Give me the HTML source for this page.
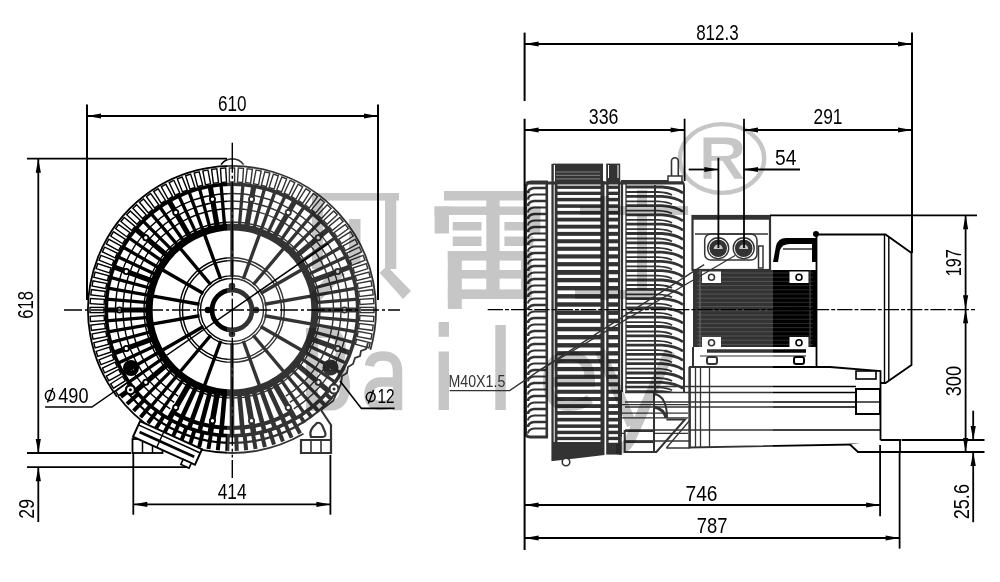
<!DOCTYPE html>
<html><head><meta charset="utf-8"><style>
html,body{margin:0;padding:0;background:#fff;}
svg{display:block;}
text{font-family:"Liberation Sans",sans-serif;}
</style></head><body>
<svg width="1000" height="582" viewBox="0 0 1000 582">
<rect width="1000" height="582" fill="#fff"/>
<g id="leftblower">
<path d="M117,396.66 A144,144 0 1 1 370.42,349.69" fill="none" stroke="#000" stroke-width="1.8"/>
<path d="M303.5,433.84 A143,143 0 0 1 117.8,396.06" fill="none" stroke="#000" stroke-width="1.8"/>
<rect x="-2.6" y="-142" width="5.2" height="14" fill="none" stroke="#000" stroke-width="1.4" transform="translate(232,310) rotate(0)"/>
<rect x="-2.6" y="-142" width="5.2" height="14" fill="none" stroke="#000" stroke-width="1.4" transform="translate(232,310) rotate(3.6)"/>
<rect x="-2.6" y="-142" width="5.2" height="14" fill="none" stroke="#000" stroke-width="1.4" transform="translate(232,310) rotate(7.2)"/>
<rect x="-2.6" y="-142" width="5.2" height="14" fill="none" stroke="#000" stroke-width="1.4" transform="translate(232,310) rotate(10.8)"/>
<rect x="-2.6" y="-142" width="5.2" height="14" fill="none" stroke="#000" stroke-width="1.4" transform="translate(232,310) rotate(14.4)"/>
<rect x="-2.6" y="-142" width="5.2" height="14" fill="none" stroke="#000" stroke-width="1.4" transform="translate(232,310) rotate(18)"/>
<rect x="-2.6" y="-142" width="5.2" height="14" fill="none" stroke="#000" stroke-width="1.4" transform="translate(232,310) rotate(21.6)"/>
<rect x="-2.6" y="-142" width="5.2" height="14" fill="none" stroke="#000" stroke-width="1.4" transform="translate(232,310) rotate(25.2)"/>
<rect x="-2.6" y="-142" width="5.2" height="14" fill="none" stroke="#000" stroke-width="1.4" transform="translate(232,310) rotate(28.8)"/>
<rect x="-2.6" y="-142" width="5.2" height="14" fill="none" stroke="#000" stroke-width="1.4" transform="translate(232,310) rotate(32.4)"/>
<rect x="-2.6" y="-142" width="5.2" height="14" fill="none" stroke="#000" stroke-width="1.4" transform="translate(232,310) rotate(36)"/>
<rect x="-2.6" y="-142" width="5.2" height="14" fill="none" stroke="#000" stroke-width="1.4" transform="translate(232,310) rotate(39.6)"/>
<rect x="-2.6" y="-142" width="5.2" height="14" fill="none" stroke="#000" stroke-width="1.4" transform="translate(232,310) rotate(43.2)"/>
<rect x="-2.6" y="-142" width="5.2" height="14" fill="none" stroke="#000" stroke-width="1.4" transform="translate(232,310) rotate(46.8)"/>
<rect x="-2.6" y="-142" width="5.2" height="14" fill="none" stroke="#000" stroke-width="1.4" transform="translate(232,310) rotate(50.4)"/>
<rect x="-2.6" y="-142" width="5.2" height="14" fill="none" stroke="#000" stroke-width="1.4" transform="translate(232,310) rotate(54)"/>
<rect x="-2.6" y="-142" width="5.2" height="14" fill="none" stroke="#000" stroke-width="1.4" transform="translate(232,310) rotate(57.6)"/>
<rect x="-2.6" y="-142" width="5.2" height="14" fill="none" stroke="#000" stroke-width="1.4" transform="translate(232,310) rotate(61.2)"/>
<rect x="-2.6" y="-142" width="5.2" height="14" fill="none" stroke="#000" stroke-width="1.4" transform="translate(232,310) rotate(64.8)"/>
<rect x="-2.6" y="-142" width="5.2" height="14" fill="none" stroke="#000" stroke-width="1.4" transform="translate(232,310) rotate(68.4)"/>
<rect x="-2.6" y="-142" width="5.2" height="14" fill="none" stroke="#000" stroke-width="1.4" transform="translate(232,310) rotate(72)"/>
<rect x="-2.6" y="-142" width="5.2" height="14" fill="none" stroke="#000" stroke-width="1.4" transform="translate(232,310) rotate(75.6)"/>
<rect x="-2.6" y="-142" width="5.2" height="14" fill="none" stroke="#000" stroke-width="1.4" transform="translate(232,310) rotate(79.2)"/>
<rect x="-2.6" y="-142" width="5.2" height="14" fill="none" stroke="#000" stroke-width="1.4" transform="translate(232,310) rotate(82.8)"/>
<rect x="-2.6" y="-142" width="5.2" height="14" fill="none" stroke="#000" stroke-width="1.4" transform="translate(232,310) rotate(86.4)"/>
<rect x="-2.6" y="-142" width="5.2" height="14" fill="none" stroke="#000" stroke-width="1.4" transform="translate(232,310) rotate(90)"/>
<rect x="-2.6" y="-142" width="5.2" height="14" fill="none" stroke="#000" stroke-width="1.4" transform="translate(232,310) rotate(93.6)"/>
<rect x="-2.6" y="-142" width="5.2" height="14" fill="none" stroke="#000" stroke-width="1.4" transform="translate(232,310) rotate(97.2)"/>
<rect x="-2.6" y="-142" width="5.2" height="14" fill="none" stroke="#000" stroke-width="1.4" transform="translate(232,310) rotate(100.8)"/>
<rect x="-2.6" y="-142" width="5.2" height="14" fill="none" stroke="#000" stroke-width="1.4" transform="translate(232,310) rotate(104.4)"/>
<rect x="-2.6" y="-142" width="5.2" height="14" fill="none" stroke="#000" stroke-width="1.4" transform="translate(232,310) rotate(234)"/>
<rect x="-2.6" y="-142" width="5.2" height="14" fill="none" stroke="#000" stroke-width="1.4" transform="translate(232,310) rotate(237.6)"/>
<rect x="-2.6" y="-142" width="5.2" height="14" fill="none" stroke="#000" stroke-width="1.4" transform="translate(232,310) rotate(241.2)"/>
<rect x="-2.6" y="-142" width="5.2" height="14" fill="none" stroke="#000" stroke-width="1.4" transform="translate(232,310) rotate(244.8)"/>
<rect x="-2.6" y="-142" width="5.2" height="14" fill="none" stroke="#000" stroke-width="1.4" transform="translate(232,310) rotate(248.4)"/>
<rect x="-2.6" y="-142" width="5.2" height="14" fill="none" stroke="#000" stroke-width="1.4" transform="translate(232,310) rotate(252)"/>
<rect x="-2.6" y="-142" width="5.2" height="14" fill="none" stroke="#000" stroke-width="1.4" transform="translate(232,310) rotate(255.6)"/>
<rect x="-2.6" y="-142" width="5.2" height="14" fill="none" stroke="#000" stroke-width="1.4" transform="translate(232,310) rotate(259.2)"/>
<rect x="-2.6" y="-142" width="5.2" height="14" fill="none" stroke="#000" stroke-width="1.4" transform="translate(232,310) rotate(262.8)"/>
<rect x="-2.6" y="-142" width="5.2" height="14" fill="none" stroke="#000" stroke-width="1.4" transform="translate(232,310) rotate(266.4)"/>
<rect x="-2.6" y="-142" width="5.2" height="14" fill="none" stroke="#000" stroke-width="1.4" transform="translate(232,310) rotate(270)"/>
<rect x="-2.6" y="-142" width="5.2" height="14" fill="none" stroke="#000" stroke-width="1.4" transform="translate(232,310) rotate(273.6)"/>
<rect x="-2.6" y="-142" width="5.2" height="14" fill="none" stroke="#000" stroke-width="1.4" transform="translate(232,310) rotate(277.2)"/>
<rect x="-2.6" y="-142" width="5.2" height="14" fill="none" stroke="#000" stroke-width="1.4" transform="translate(232,310) rotate(280.8)"/>
<rect x="-2.6" y="-142" width="5.2" height="14" fill="none" stroke="#000" stroke-width="1.4" transform="translate(232,310) rotate(284.4)"/>
<rect x="-2.6" y="-142" width="5.2" height="14" fill="none" stroke="#000" stroke-width="1.4" transform="translate(232,310) rotate(288)"/>
<rect x="-2.6" y="-142" width="5.2" height="14" fill="none" stroke="#000" stroke-width="1.4" transform="translate(232,310) rotate(291.6)"/>
<rect x="-2.6" y="-142" width="5.2" height="14" fill="none" stroke="#000" stroke-width="1.4" transform="translate(232,310) rotate(295.2)"/>
<rect x="-2.6" y="-142" width="5.2" height="14" fill="none" stroke="#000" stroke-width="1.4" transform="translate(232,310) rotate(298.8)"/>
<rect x="-2.6" y="-142" width="5.2" height="14" fill="none" stroke="#000" stroke-width="1.4" transform="translate(232,310) rotate(302.4)"/>
<rect x="-2.6" y="-142" width="5.2" height="14" fill="none" stroke="#000" stroke-width="1.4" transform="translate(232,310) rotate(306)"/>
<rect x="-2.6" y="-142" width="5.2" height="14" fill="none" stroke="#000" stroke-width="1.4" transform="translate(232,310) rotate(309.6)"/>
<rect x="-2.6" y="-142" width="5.2" height="14" fill="none" stroke="#000" stroke-width="1.4" transform="translate(232,310) rotate(313.2)"/>
<rect x="-2.6" y="-142" width="5.2" height="14" fill="none" stroke="#000" stroke-width="1.4" transform="translate(232,310) rotate(316.8)"/>
<rect x="-2.6" y="-142" width="5.2" height="14" fill="none" stroke="#000" stroke-width="1.4" transform="translate(232,310) rotate(320.4)"/>
<rect x="-2.6" y="-142" width="5.2" height="14" fill="none" stroke="#000" stroke-width="1.4" transform="translate(232,310) rotate(324)"/>
<rect x="-2.6" y="-142" width="5.2" height="14" fill="none" stroke="#000" stroke-width="1.4" transform="translate(232,310) rotate(327.6)"/>
<rect x="-2.6" y="-142" width="5.2" height="14" fill="none" stroke="#000" stroke-width="1.4" transform="translate(232,310) rotate(331.2)"/>
<rect x="-2.6" y="-142" width="5.2" height="14" fill="none" stroke="#000" stroke-width="1.4" transform="translate(232,310) rotate(334.8)"/>
<rect x="-2.6" y="-142" width="5.2" height="14" fill="none" stroke="#000" stroke-width="1.4" transform="translate(232,310) rotate(338.4)"/>
<rect x="-2.6" y="-142" width="5.2" height="14" fill="none" stroke="#000" stroke-width="1.4" transform="translate(232,310) rotate(342)"/>
<rect x="-2.6" y="-142" width="5.2" height="14" fill="none" stroke="#000" stroke-width="1.4" transform="translate(232,310) rotate(345.6)"/>
<rect x="-2.6" y="-142" width="5.2" height="14" fill="none" stroke="#000" stroke-width="1.4" transform="translate(232,310) rotate(349.2)"/>
<rect x="-2.6" y="-142" width="5.2" height="14" fill="none" stroke="#000" stroke-width="1.4" transform="translate(232,310) rotate(352.8)"/>
<rect x="-2.6" y="-142" width="5.2" height="14" fill="none" stroke="#000" stroke-width="1.4" transform="translate(232,310) rotate(356.4)"/>
<circle cx="232" cy="310" r="125.8" stroke="#000" stroke-width="3.6" fill="none"/>
<line x1="331.29" y1="387.57" x2="337.59" y2="392.5" stroke="#000" stroke-width="4"/>
<line x1="325.85" y1="394.07" x2="331.81" y2="399.41" stroke="#000" stroke-width="4"/>
<line x1="319.99" y1="400.18" x2="325.58" y2="405.91" stroke="#000" stroke-width="4"/>
<line x1="313.74" y1="405.89" x2="318.93" y2="411.98" stroke="#000" stroke-width="4"/>
<line x1="307.11" y1="411.16" x2="311.88" y2="417.59" stroke="#000" stroke-width="4"/>
<line x1="300.15" y1="415.98" x2="304.47" y2="422.71" stroke="#000" stroke-width="4"/>
<line x1="292.87" y1="420.32" x2="300.12" y2="433.45" stroke="#000" stroke-width="4"/>
<line x1="285.32" y1="424.16" x2="291.67" y2="437.75" stroke="#000" stroke-width="4"/>
<line x1="277.53" y1="427.48" x2="282.96" y2="441.47" stroke="#000" stroke-width="4"/>
<line x1="269.54" y1="430.28" x2="274.01" y2="444.6" stroke="#000" stroke-width="4"/>
<line x1="261.37" y1="432.53" x2="264.87" y2="447.11" stroke="#000" stroke-width="4"/>
<line x1="253.08" y1="434.22" x2="255.59" y2="449.01" stroke="#000" stroke-width="4"/>
<line x1="244.68" y1="435.36" x2="246.19" y2="450.28" stroke="#000" stroke-width="4"/>
<line x1="236.23" y1="435.93" x2="236.74" y2="450.92" stroke="#000" stroke-width="4"/>
<line x1="227.77" y1="435.93" x2="227.26" y2="450.92" stroke="#000" stroke-width="4"/>
<line x1="219.32" y1="435.36" x2="217.81" y2="450.28" stroke="#000" stroke-width="4"/>
<line x1="210.92" y1="434.22" x2="208.41" y2="449.01" stroke="#000" stroke-width="4"/>
<line x1="202.63" y1="432.53" x2="199.13" y2="447.11" stroke="#000" stroke-width="4"/>
<line x1="194.46" y1="430.28" x2="189.99" y2="444.6" stroke="#000" stroke-width="4"/>
<line x1="186.47" y1="427.48" x2="181.04" y2="441.47" stroke="#000" stroke-width="4"/>
<line x1="178.68" y1="424.16" x2="172.33" y2="437.75" stroke="#000" stroke-width="4"/>
<line x1="171.13" y1="420.32" x2="163.88" y2="433.45" stroke="#000" stroke-width="4"/>
<line x1="163.85" y1="415.98" x2="155.74" y2="428.6" stroke="#000" stroke-width="4"/>
<line x1="156.89" y1="411.16" x2="147.95" y2="423.21" stroke="#000" stroke-width="4"/>
<line x1="150.26" y1="405.89" x2="140.53" y2="417.31" stroke="#000" stroke-width="4"/>
<line x1="144.01" y1="400.18" x2="133.53" y2="410.92" stroke="#000" stroke-width="4"/>
<line x1="138.15" y1="394.07" x2="126.97" y2="404.08" stroke="#000" stroke-width="4"/>
<line x1="132.71" y1="387.57" x2="120.89" y2="396.81" stroke="#000" stroke-width="4"/>
<path d="M336.81,391.88 A133,133 0 0 1 127.19,391.88" fill="none" stroke="#000" stroke-width="2.2"/>
<path d="M368,343 L366,349 L361,351 L360,356 L355,358 L353,364 L348,367 L347,373 L342,376 L341,384 L333,401 L321,410" fill="none" stroke="#000" stroke-width="1.8"/>
<circle cx="330.5" cy="367.5" r="8" fill="#000"/><circle cx="331.5" cy="368.5" r="2" fill="#888"/>
<circle cx="131" cy="368" r="8" fill="#000"/><circle cx="132" cy="369" r="2" fill="#888"/>
<circle cx="130.4" cy="389.8" r="4.5" fill="#fff" stroke="#000" stroke-width="2.2"/><circle cx="130.4" cy="389.8" r="1.5" fill="#000"/>
<circle cx="334" cy="389" r="4.5" fill="#fff" stroke="#000" stroke-width="2.2"/><circle cx="334" cy="389" r="1.5" fill="#000"/>
<line x1="232" y1="226" x2="232" y2="184" stroke="#000" stroke-width="3.3"/>
<line x1="239.32" y1="226.32" x2="242.98" y2="184.48" stroke="#000" stroke-width="3.3"/>
<line x1="246.59" y1="227.28" x2="253.88" y2="185.91" stroke="#000" stroke-width="5.2"/>
<line x1="253.74" y1="228.86" x2="264.61" y2="188.29" stroke="#000" stroke-width="3.3"/>
<line x1="260.73" y1="231.07" x2="275.09" y2="191.6" stroke="#000" stroke-width="3.3"/>
<line x1="267.5" y1="233.87" x2="285.25" y2="195.81" stroke="#000" stroke-width="3.3"/>
<line x1="274" y1="237.25" x2="295" y2="200.88" stroke="#000" stroke-width="5.2"/>
<line x1="280.18" y1="241.19" x2="304.27" y2="206.79" stroke="#000" stroke-width="3.3"/>
<line x1="285.99" y1="245.65" x2="312.99" y2="213.48" stroke="#000" stroke-width="3.3"/>
<line x1="291.4" y1="250.6" x2="321.1" y2="220.9" stroke="#000" stroke-width="3.3"/>
<line x1="296.35" y1="256.01" x2="328.52" y2="229.01" stroke="#000" stroke-width="5.2"/>
<line x1="300.81" y1="261.82" x2="335.21" y2="237.73" stroke="#000" stroke-width="3.3"/>
<line x1="304.75" y1="268" x2="341.12" y2="247" stroke="#000" stroke-width="3.3"/>
<line x1="308.13" y1="274.5" x2="346.19" y2="256.75" stroke="#000" stroke-width="3.3"/>
<line x1="310.93" y1="281.27" x2="350.4" y2="266.91" stroke="#000" stroke-width="5.2"/>
<line x1="313.14" y1="288.26" x2="353.71" y2="277.39" stroke="#000" stroke-width="3.3"/>
<line x1="314.72" y1="295.41" x2="356.09" y2="288.12" stroke="#000" stroke-width="3.3"/>
<line x1="315.68" y1="302.68" x2="357.52" y2="299.02" stroke="#000" stroke-width="3.3"/>
<line x1="316" y1="310" x2="358" y2="310" stroke="#000" stroke-width="5.2"/>
<line x1="315.68" y1="317.32" x2="357.52" y2="320.98" stroke="#000" stroke-width="3.3"/>
<line x1="314.72" y1="324.59" x2="356.09" y2="331.88" stroke="#000" stroke-width="3.3"/>
<line x1="313.14" y1="331.74" x2="353.71" y2="342.61" stroke="#000" stroke-width="3.3"/>
<line x1="310.93" y1="338.73" x2="350.4" y2="353.09" stroke="#000" stroke-width="5.2"/>
<line x1="308.13" y1="345.5" x2="346.19" y2="363.25" stroke="#000" stroke-width="3.3"/>
<line x1="304.75" y1="352" x2="341.12" y2="373" stroke="#000" stroke-width="3.3"/>
<line x1="300.81" y1="358.18" x2="335.21" y2="382.27" stroke="#000" stroke-width="3.3"/>
<line x1="296.35" y1="363.99" x2="328.52" y2="390.99" stroke="#000" stroke-width="5.2"/>
<line x1="291.4" y1="369.4" x2="321.1" y2="399.1" stroke="#000" stroke-width="3.3"/>
<line x1="285.99" y1="374.35" x2="312.99" y2="406.52" stroke="#000" stroke-width="3.3"/>
<line x1="280.18" y1="378.81" x2="304.27" y2="413.21" stroke="#000" stroke-width="3.3"/>
<line x1="274" y1="382.75" x2="295" y2="419.12" stroke="#000" stroke-width="5.6"/>
<line x1="267.5" y1="386.13" x2="285.25" y2="424.19" stroke="#000" stroke-width="4.6"/>
<line x1="260.73" y1="388.93" x2="275.09" y2="428.4" stroke="#000" stroke-width="4.6"/>
<line x1="253.74" y1="391.14" x2="264.61" y2="431.71" stroke="#000" stroke-width="4.6"/>
<line x1="246.59" y1="392.72" x2="253.88" y2="434.09" stroke="#000" stroke-width="5.6"/>
<line x1="239.32" y1="393.68" x2="242.98" y2="435.52" stroke="#000" stroke-width="4.6"/>
<line x1="232" y1="394" x2="232" y2="436" stroke="#000" stroke-width="4.6"/>
<line x1="224.68" y1="393.68" x2="221.02" y2="435.52" stroke="#000" stroke-width="4.6"/>
<line x1="217.41" y1="392.72" x2="210.12" y2="434.09" stroke="#000" stroke-width="5.6"/>
<line x1="210.26" y1="391.14" x2="199.39" y2="431.71" stroke="#000" stroke-width="4.6"/>
<line x1="203.27" y1="388.93" x2="188.91" y2="428.4" stroke="#000" stroke-width="4.6"/>
<line x1="196.5" y1="386.13" x2="178.75" y2="424.19" stroke="#000" stroke-width="4.6"/>
<line x1="190" y1="382.75" x2="169" y2="419.12" stroke="#000" stroke-width="5.6"/>
<line x1="183.82" y1="378.81" x2="159.73" y2="413.21" stroke="#000" stroke-width="3.3"/>
<line x1="178.01" y1="374.35" x2="151.01" y2="406.52" stroke="#000" stroke-width="3.3"/>
<line x1="172.6" y1="369.4" x2="142.9" y2="399.1" stroke="#000" stroke-width="3.3"/>
<line x1="167.65" y1="363.99" x2="135.48" y2="390.99" stroke="#000" stroke-width="5.2"/>
<line x1="163.19" y1="358.18" x2="128.79" y2="382.27" stroke="#000" stroke-width="3.3"/>
<line x1="159.25" y1="352" x2="122.88" y2="373" stroke="#000" stroke-width="3.3"/>
<line x1="155.87" y1="345.5" x2="117.81" y2="363.25" stroke="#000" stroke-width="3.3"/>
<line x1="153.07" y1="338.73" x2="113.6" y2="353.09" stroke="#000" stroke-width="5.2"/>
<line x1="150.86" y1="331.74" x2="110.29" y2="342.61" stroke="#000" stroke-width="3.3"/>
<line x1="149.28" y1="324.59" x2="107.91" y2="331.88" stroke="#000" stroke-width="3.3"/>
<line x1="148.32" y1="317.32" x2="106.48" y2="320.98" stroke="#000" stroke-width="3.3"/>
<line x1="148" y1="310" x2="106" y2="310" stroke="#000" stroke-width="5.2"/>
<line x1="148.32" y1="302.68" x2="106.48" y2="299.02" stroke="#000" stroke-width="3.3"/>
<line x1="149.28" y1="295.41" x2="107.91" y2="288.12" stroke="#000" stroke-width="3.3"/>
<line x1="150.86" y1="288.26" x2="110.29" y2="277.39" stroke="#000" stroke-width="3.3"/>
<line x1="153.07" y1="281.27" x2="113.6" y2="266.91" stroke="#000" stroke-width="5.2"/>
<line x1="155.87" y1="274.5" x2="117.81" y2="256.75" stroke="#000" stroke-width="3.3"/>
<line x1="159.25" y1="268" x2="122.88" y2="247" stroke="#000" stroke-width="3.3"/>
<line x1="163.19" y1="261.82" x2="128.79" y2="237.73" stroke="#000" stroke-width="3.3"/>
<line x1="167.65" y1="256.01" x2="135.48" y2="229.01" stroke="#000" stroke-width="5.2"/>
<line x1="172.6" y1="250.6" x2="142.9" y2="220.9" stroke="#000" stroke-width="3.3"/>
<line x1="178.01" y1="245.65" x2="151.01" y2="213.48" stroke="#000" stroke-width="3.3"/>
<line x1="183.82" y1="241.19" x2="159.73" y2="206.79" stroke="#000" stroke-width="3.3"/>
<line x1="190" y1="237.25" x2="169" y2="200.88" stroke="#000" stroke-width="5.2"/>
<line x1="196.5" y1="233.87" x2="178.75" y2="195.81" stroke="#000" stroke-width="3.3"/>
<line x1="203.27" y1="231.07" x2="188.91" y2="191.6" stroke="#000" stroke-width="3.3"/>
<line x1="210.26" y1="228.86" x2="199.39" y2="188.29" stroke="#000" stroke-width="3.3"/>
<line x1="217.41" y1="227.28" x2="210.12" y2="185.91" stroke="#000" stroke-width="5.2"/>
<line x1="224.68" y1="226.32" x2="221.02" y2="184.48" stroke="#000" stroke-width="3.3"/>
<path d="M178.21,396.08 A101.5,101.5 0 1 1 285.79,396.08" fill="none" stroke="#000" stroke-width="1.4"/>
<path d="M174.24,402.44 A109,109 0 1 1 289.76,402.44" fill="none" stroke="#000" stroke-width="1.4"/>
<path d="M170.26,408.8 A116.5,116.5 0 1 1 293.74,408.8" fill="none" stroke="#000" stroke-width="1.4"/>
<path d="M291,412.19 A118,118 0 0 1 173,412.19" fill="none" stroke="#000" stroke-width="4"/>
<circle cx="251.54" cy="199.21" r="2.6" fill="#fff" stroke="#000" stroke-width="1.8"/>
<circle cx="288.25" cy="212.57" r="2.6" fill="#fff" stroke="#000" stroke-width="1.8"/>
<circle cx="318.18" cy="237.69" r="2.6" fill="#fff" stroke="#000" stroke-width="1.8"/>
<circle cx="337.72" cy="271.52" r="2.6" fill="#fff" stroke="#000" stroke-width="1.8"/>
<circle cx="344.5" cy="310" r="2.6" fill="#fff" stroke="#000" stroke-width="1.8"/>
<circle cx="337.72" cy="348.48" r="2.6" fill="#fff" stroke="#000" stroke-width="1.8"/>
<circle cx="318.18" cy="382.31" r="2.6" fill="#fff" stroke="#000" stroke-width="1.8"/>
<circle cx="288.25" cy="407.43" r="2.6" fill="#fff" stroke="#000" stroke-width="1.8"/>
<circle cx="251.54" cy="420.79" r="2.6" fill="#fff" stroke="#000" stroke-width="1.8"/>
<circle cx="212.46" cy="420.79" r="2.6" fill="#fff" stroke="#000" stroke-width="1.8"/>
<circle cx="175.75" cy="407.43" r="2.6" fill="#fff" stroke="#000" stroke-width="1.8"/>
<circle cx="145.82" cy="382.31" r="2.6" fill="#fff" stroke="#000" stroke-width="1.8"/>
<circle cx="126.28" cy="348.48" r="2.6" fill="#fff" stroke="#000" stroke-width="1.8"/>
<circle cx="119.5" cy="310" r="2.6" fill="#fff" stroke="#000" stroke-width="1.8"/>
<circle cx="126.28" cy="271.52" r="2.6" fill="#fff" stroke="#000" stroke-width="1.8"/>
<circle cx="145.82" cy="237.69" r="2.6" fill="#fff" stroke="#000" stroke-width="1.8"/>
<circle cx="175.75" cy="212.57" r="2.6" fill="#fff" stroke="#000" stroke-width="1.8"/>
<circle cx="212.46" cy="199.21" r="2.6" fill="#fff" stroke="#000" stroke-width="1.8"/>
<circle cx="232" cy="310" r="88" stroke="#000" stroke-width="1.4" fill="none"/>
<circle cx="232" cy="310" r="83" stroke="#000" stroke-width="7.2" fill="none"/>
<line x1="232" y1="277" x2="232" y2="230" stroke="#000" stroke-width="3.4"/>
<line x1="243.29" y1="278.99" x2="259.36" y2="234.82" stroke="#000" stroke-width="3.4"/>
<line x1="253.21" y1="284.72" x2="283.42" y2="248.72" stroke="#000" stroke-width="3.4"/>
<line x1="260.58" y1="293.5" x2="301.28" y2="270" stroke="#000" stroke-width="3.4"/>
<line x1="264.5" y1="304.27" x2="310.78" y2="296.11" stroke="#000" stroke-width="3.4"/>
<line x1="264.5" y1="315.73" x2="310.78" y2="323.89" stroke="#000" stroke-width="3.4"/>
<line x1="260.58" y1="326.5" x2="301.28" y2="350" stroke="#000" stroke-width="3.4"/>
<line x1="253.21" y1="335.28" x2="283.42" y2="371.28" stroke="#000" stroke-width="3.4"/>
<line x1="243.29" y1="341.01" x2="259.36" y2="385.18" stroke="#000" stroke-width="3.4"/>
<line x1="232" y1="343" x2="232" y2="390" stroke="#000" stroke-width="3.4"/>
<line x1="220.71" y1="341.01" x2="204.64" y2="385.18" stroke="#000" stroke-width="3.4"/>
<line x1="210.79" y1="335.28" x2="180.58" y2="371.28" stroke="#000" stroke-width="3.4"/>
<line x1="203.42" y1="326.5" x2="162.72" y2="350" stroke="#000" stroke-width="3.4"/>
<line x1="199.5" y1="315.73" x2="153.22" y2="323.89" stroke="#000" stroke-width="3.4"/>
<line x1="199.5" y1="304.27" x2="153.22" y2="296.11" stroke="#000" stroke-width="3.4"/>
<line x1="203.42" y1="293.5" x2="162.72" y2="270" stroke="#000" stroke-width="3.4"/>
<line x1="210.79" y1="284.72" x2="180.58" y2="248.72" stroke="#000" stroke-width="3.4"/>
<line x1="220.71" y1="278.99" x2="204.64" y2="234.82" stroke="#000" stroke-width="3.4"/>
<circle cx="232" cy="310" r="49.5" stroke="#000" stroke-width="1.4" fill="none"/>
<circle cx="232" cy="310" r="52.3" stroke="#000" stroke-width="1.4" fill="none"/>
<circle cx="232" cy="310" r="31.5" stroke="#000" stroke-width="1.4" fill="none"/>
<circle cx="232" cy="310" r="34.2" stroke="#000" stroke-width="1.4" fill="none"/>
<circle cx="232" cy="310" r="20" stroke="#000" stroke-width="4.8" fill="none"/>
<circle cx="232" cy="286" r="3.3" fill="#000"/>
<circle cx="256" cy="310" r="3.3" fill="#000"/>
<circle cx="232" cy="334" r="3.3" fill="#000"/>
<circle cx="208" cy="310" r="3.3" fill="#000"/>
<path d="M221,164.6 A14,14 0 0 1 243.6,164.6" fill="none" stroke="#000" stroke-width="1.6"/>
<rect x="132.5" y="439" width="30" height="14" fill="#fff" stroke="#000" stroke-width="1.8"/>
<line x1="142.5" y1="439" x2="142.5" y2="453" stroke="#000" stroke-width="1.5"/>
<line x1="152.5" y1="439" x2="152.5" y2="453" stroke="#000" stroke-width="1.5"/>
<path d="M301,453 L301,440 L331,440 L331,453 Z" fill="#fff" stroke="#000" stroke-width="2.2"/>
<path d="M321,410 L331,425 L331,440" fill="none" stroke="#000" stroke-width="2.2"/>
<path d="M311,437 Q309,432 313,427 L317,423 Q320,422 322,425 L325,432 Q327,437 322,437 Z" fill="#fff" stroke="#000" stroke-width="2.2"/>
<line x1="311" y1="440" x2="311" y2="453" stroke="#000" stroke-width="1.6"/>
<line x1="321" y1="440" x2="321" y2="453" stroke="#000" stroke-width="1.6"/>
<g transform="translate(167.5,443) rotate(24.4)"><rect x="-34" y="-8.5" width="68" height="17" fill="#fff" stroke="#000" stroke-width="2"/><line x1="-34" y1="-4.5" x2="34" y2="-4.5" stroke="#000" stroke-width="1.6"/><line x1="-30" y1="1.5" x2="30" y2="1.5" stroke="#000" stroke-width="2.6"/><line x1="-8" y1="-8.5" x2="-8" y2="8.5" stroke="#000" stroke-width="1.4"/><rect x="21" y="8.5" width="9" height="5.5" fill="#fff" stroke="#000" stroke-width="1.6"/></g>
</g>
<g id="rightview">
<path d="M548,182 L531,182 Q525.5,182 525.5,189 L525.5,432 Q525.5,437 530,437 L548,437" fill="none" stroke="#000" stroke-width="3"/>
<path d="M547,188 L534,188 Q528,189 528,193" fill="none" stroke="#000" stroke-width="2.7"/>
<path d="M547,194.5 L534,194.5 Q528,195.5 528,199.5" fill="none" stroke="#000" stroke-width="2.0"/>
<path d="M547,201 L534,201 Q528,202 528,206" fill="none" stroke="#000" stroke-width="2.7"/>
<path d="M547,207.5 L534,207.5 Q528,208.5 528,212.5" fill="none" stroke="#000" stroke-width="2.0"/>
<path d="M547,214 L534,214 Q528,215 528,219" fill="none" stroke="#000" stroke-width="2.7"/>
<path d="M547,220.5 L534,220.5 Q528,221.5 528,225.5" fill="none" stroke="#000" stroke-width="2.0"/>
<path d="M547,227 L534,227 Q528,228 528,232" fill="none" stroke="#000" stroke-width="2.7"/>
<path d="M547,233.5 L534,233.5 Q528,234.5 528,238.5" fill="none" stroke="#000" stroke-width="2.0"/>
<path d="M547,240 L534,240 Q528,241 528,245" fill="none" stroke="#000" stroke-width="2.7"/>
<path d="M547,246.5 L534,246.5 Q528,247.5 528,251.5" fill="none" stroke="#000" stroke-width="2.0"/>
<path d="M547,253 L534,253 Q528,254 528,258" fill="none" stroke="#000" stroke-width="2.7"/>
<path d="M547,259.5 L534,259.5 Q528,260.5 528,264.5" fill="none" stroke="#000" stroke-width="2.0"/>
<path d="M547,266 L534,266 Q528,267 528,271" fill="none" stroke="#000" stroke-width="2.7"/>
<path d="M547,272.5 L534,272.5 Q528,273.5 528,277.5" fill="none" stroke="#000" stroke-width="2.0"/>
<path d="M547,279 L534,279 Q528,280 528,284" fill="none" stroke="#000" stroke-width="2.7"/>
<path d="M547,285.5 L534,285.5 Q528,286.5 528,290.5" fill="none" stroke="#000" stroke-width="2.0"/>
<path d="M547,292 L534,292 Q528,293 528,297" fill="none" stroke="#000" stroke-width="2.7"/>
<path d="M547,298.5 L534,298.5 Q528,299.5 528,303.5" fill="none" stroke="#000" stroke-width="2.0"/>
<path d="M547,305 L534,305 Q528,306 528,310" fill="none" stroke="#000" stroke-width="2.7"/>
<path d="M547,311.5 L534,311.5 Q528,312.5 528,316.5" fill="none" stroke="#000" stroke-width="2.0"/>
<path d="M547,318 L534,318 Q528,319 528,323" fill="none" stroke="#000" stroke-width="2.7"/>
<path d="M547,324.5 L534,324.5 Q528,325.5 528,329.5" fill="none" stroke="#000" stroke-width="2.0"/>
<path d="M547,331 L534,331 Q528,332 528,336" fill="none" stroke="#000" stroke-width="2.7"/>
<path d="M547,337.5 L534,337.5 Q528,338.5 528,342.5" fill="none" stroke="#000" stroke-width="2.0"/>
<path d="M547,344 L534,344 Q528,345 528,349" fill="none" stroke="#000" stroke-width="2.7"/>
<path d="M547,350.5 L534,350.5 Q528,351.5 528,355.5" fill="none" stroke="#000" stroke-width="2.0"/>
<path d="M547,357 L534,357 Q528,358 528,362" fill="none" stroke="#000" stroke-width="2.7"/>
<path d="M547,363.5 L534,363.5 Q528,364.5 528,368.5" fill="none" stroke="#000" stroke-width="2.0"/>
<path d="M547,370 L534,370 Q528,371 528,375" fill="none" stroke="#000" stroke-width="2.7"/>
<path d="M547,376.5 L534,376.5 Q528,377.5 528,381.5" fill="none" stroke="#000" stroke-width="2.0"/>
<path d="M547,383 L534,383 Q528,384 528,388" fill="none" stroke="#000" stroke-width="2.7"/>
<path d="M547,389.5 L534,389.5 Q528,390.5 528,394.5" fill="none" stroke="#000" stroke-width="2.0"/>
<path d="M547,396 L534,396 Q528,397 528,401" fill="none" stroke="#000" stroke-width="2.7"/>
<path d="M547,402.5 L534,402.5 Q528,403.5 528,407.5" fill="none" stroke="#000" stroke-width="2.0"/>
<path d="M547,409 L534,409 Q528,410 528,414" fill="none" stroke="#000" stroke-width="2.7"/>
<path d="M547,415.5 L534,415.5 Q528,416.5 528,420.5" fill="none" stroke="#000" stroke-width="2.0"/>
<path d="M547,422 L534,422 Q528,423 528,427" fill="none" stroke="#000" stroke-width="2.7"/>
<path d="M547,428.5 L534,428.5 Q528,429.5 528,433.5" fill="none" stroke="#000" stroke-width="2.0"/>
<line x1="546.8" y1="182" x2="546.8" y2="437" stroke="#000" stroke-width="2.6"/>
<line x1="552.5" y1="164" x2="552.5" y2="461" stroke="#000" stroke-width="2.2"/>
<rect x="552.5" y="163.6" width="50.5" height="17.5" fill="#000"/>
<line x1="554.4" y1="165" x2="554.4" y2="181" stroke="#fff" stroke-width="1.2"/>
<line x1="556" y1="172" x2="600" y2="172" stroke="#666" stroke-width="1"/>
<line x1="556" y1="175.3" x2="600" y2="175.3" stroke="#666" stroke-width="1"/>
<line x1="556" y1="178.9" x2="600" y2="178.9" stroke="#666" stroke-width="1"/>
<rect x="552.5" y="181" width="52" height="261" fill="#000"/>
<rect x="557.5" y="183" width="43" height="2.64" fill="#fff"/>
<rect x="557.5" y="188.91" width="43" height="2.74" fill="#fff"/>
<rect x="557.5" y="195.03" width="43" height="2.83" fill="#fff"/>
<rect x="557.5" y="201.35" width="43" height="2.93" fill="#fff"/>
<rect x="557.5" y="207.87" width="43" height="3.03" fill="#fff"/>
<rect x="557.5" y="214.59" width="43" height="3.12" fill="#fff"/>
<rect x="557.5" y="221.5" width="43" height="3.2" fill="#fff"/>
<rect x="557.5" y="228.59" width="43" height="3.28" fill="#fff"/>
<rect x="557.5" y="235.85" width="43" height="3.36" fill="#fff"/>
<rect x="557.5" y="243.27" width="43" height="3.43" fill="#fff"/>
<rect x="557.5" y="250.83" width="43" height="3.5" fill="#fff"/>
<rect x="557.5" y="258.54" width="43" height="3.56" fill="#fff"/>
<rect x="557.5" y="266.36" width="43" height="3.61" fill="#fff"/>
<rect x="557.5" y="274.29" width="43" height="3.65" fill="#fff"/>
<rect x="557.5" y="282.31" width="43" height="3.68" fill="#fff"/>
<rect x="557.5" y="290.4" width="43" height="3.71" fill="#fff"/>
<rect x="557.5" y="298.54" width="43" height="3.73" fill="#fff"/>
<rect x="557.5" y="306.73" width="43" height="3.74" fill="#fff"/>
<rect x="557.5" y="314.92" width="43" height="3.73" fill="#fff"/>
<rect x="557.5" y="323.12" width="43" height="3.72" fill="#fff"/>
<rect x="557.5" y="331.3" width="43" height="3.71" fill="#fff"/>
<rect x="557.5" y="339.43" width="43" height="3.68" fill="#fff"/>
<rect x="557.5" y="347.51" width="43" height="3.64" fill="#fff"/>
<rect x="557.5" y="355.51" width="43" height="3.59" fill="#fff"/>
<rect x="557.5" y="363.42" width="43" height="3.54" fill="#fff"/>
<rect x="557.5" y="371.21" width="43" height="3.48" fill="#fff"/>
<rect x="557.5" y="378.88" width="43" height="3.41" fill="#fff"/>
<rect x="557.5" y="386.4" width="43" height="3.34" fill="#fff"/>
<rect x="557.5" y="393.78" width="43" height="3.26" fill="#fff"/>
<rect x="557.5" y="400.98" width="43" height="3.17" fill="#fff"/>
<rect x="557.5" y="408" width="43" height="3.08" fill="#fff"/>
<rect x="557.5" y="414.84" width="43" height="2.99" fill="#fff"/>
<rect x="557.5" y="421.48" width="43" height="2.89" fill="#fff"/>
<rect x="557.5" y="427.91" width="43" height="2.79" fill="#fff"/>
<rect x="557.5" y="434.14" width="43" height="2.69" fill="#fff"/>
<rect x="557.5" y="440.15" width="43" height="2.58" fill="#fff"/>
<line x1="556" y1="273.5" x2="603" y2="273.5" stroke="#000" stroke-width="2.5"/>
<line x1="554.2" y1="181" x2="554.2" y2="442" stroke="#fff" stroke-width="1"/>
<path d="M553,442 L604.5,442 L604.5,455 Q580,458 553,461 Z" fill="#000"/>
<circle cx="566" cy="462" r="3.8" fill="#fff" stroke="#000" stroke-width="1.6"/>
<rect x="606.2" y="163.6" width="14" height="291" fill="#000"/>
<line x1="608.5" y1="165" x2="608.5" y2="178" stroke="#fff" stroke-width="1"/>
<line x1="618" y1="165" x2="618" y2="178" stroke="#fff" stroke-width="1"/>
<rect x="608.6" y="183" width="9.4" height="2.64" fill="#fff"/>
<rect x="608.6" y="188.91" width="9.4" height="2.74" fill="#fff"/>
<rect x="608.6" y="195.03" width="9.4" height="2.83" fill="#fff"/>
<rect x="608.6" y="201.35" width="9.4" height="2.93" fill="#fff"/>
<rect x="608.6" y="207.87" width="9.4" height="3.03" fill="#fff"/>
<rect x="608.6" y="214.59" width="9.4" height="3.12" fill="#fff"/>
<rect x="608.6" y="221.5" width="9.4" height="3.2" fill="#fff"/>
<rect x="608.6" y="228.59" width="9.4" height="3.28" fill="#fff"/>
<rect x="608.6" y="235.85" width="9.4" height="3.36" fill="#fff"/>
<rect x="608.6" y="243.27" width="9.4" height="3.43" fill="#fff"/>
<rect x="608.6" y="250.83" width="9.4" height="3.5" fill="#fff"/>
<rect x="608.6" y="258.54" width="9.4" height="3.56" fill="#fff"/>
<rect x="608.6" y="266.36" width="9.4" height="3.61" fill="#fff"/>
<rect x="608.6" y="274.29" width="9.4" height="3.65" fill="#fff"/>
<rect x="608.6" y="282.31" width="9.4" height="3.68" fill="#fff"/>
<rect x="608.6" y="290.4" width="9.4" height="3.71" fill="#fff"/>
<rect x="608.6" y="298.54" width="9.4" height="3.73" fill="#fff"/>
<rect x="608.6" y="306.73" width="9.4" height="3.74" fill="#fff"/>
<rect x="608.6" y="314.92" width="9.4" height="3.73" fill="#fff"/>
<rect x="608.6" y="323.12" width="9.4" height="3.72" fill="#fff"/>
<rect x="608.6" y="331.3" width="9.4" height="3.71" fill="#fff"/>
<rect x="608.6" y="339.43" width="9.4" height="3.68" fill="#fff"/>
<rect x="608.6" y="347.51" width="9.4" height="3.64" fill="#fff"/>
<rect x="608.6" y="355.51" width="9.4" height="3.59" fill="#fff"/>
<rect x="608.6" y="363.42" width="9.4" height="3.54" fill="#fff"/>
<rect x="608.6" y="371.21" width="9.4" height="3.48" fill="#fff"/>
<rect x="608.6" y="378.88" width="9.4" height="3.41" fill="#fff"/>
<rect x="608.6" y="386.4" width="9.4" height="3.34" fill="#fff"/>
<rect x="608.6" y="393.78" width="9.4" height="3.26" fill="#fff"/>
<rect x="608.6" y="400.98" width="9.4" height="3.17" fill="#fff"/>
<rect x="608.6" y="408" width="9.4" height="3.08" fill="#fff"/>
<rect x="608.6" y="414.84" width="9.4" height="2.99" fill="#fff"/>
<rect x="608.6" y="421.48" width="9.4" height="2.89" fill="#fff"/>
<rect x="608.6" y="427.91" width="9.4" height="2.79" fill="#fff"/>
<rect x="608.6" y="434.14" width="9.4" height="2.69" fill="#fff"/>
<rect x="608.6" y="440.15" width="9.4" height="2.58" fill="#fff"/>
<line x1="526" y1="183" x2="683" y2="183" stroke="#000" stroke-width="3"/>
<path d="M621,181 L680,181 Q684,181 684,186 L684,437" fill="none" stroke="#000" stroke-width="2"/>
<line x1="622" y1="181" x2="622" y2="437" stroke="#000" stroke-width="2.2"/>
<line x1="626" y1="181" x2="626" y2="437" stroke="#000" stroke-width="1.3"/>
<path d="M626,187 L662,187 Q676,188 683,193" fill="none" stroke="#000" stroke-width="2.8"/>
<path d="M626,192 L658,192 Q668,192.5 672,195" fill="none" stroke="#000" stroke-width="1.8"/>
<path d="M626,196.3 L662,196.3 Q676,197.3 683,202.3" fill="none" stroke="#000" stroke-width="2.8"/>
<path d="M626,201.3 L658,201.3 Q668,201.8 672,204.3" fill="none" stroke="#000" stroke-width="1.8"/>
<path d="M626,205.6 L662,205.6 Q676,206.6 683,211.6" fill="none" stroke="#000" stroke-width="2.8"/>
<path d="M626,210.6 L658,210.6 Q668,211.1 672,213.6" fill="none" stroke="#000" stroke-width="1.8"/>
<path d="M626,214.9 L662,214.9 Q676,215.9 683,220.9" fill="none" stroke="#000" stroke-width="2.8"/>
<path d="M626,219.9 L658,219.9 Q668,220.4 672,222.9" fill="none" stroke="#000" stroke-width="1.8"/>
<path d="M626,224.2 L662,224.2 Q676,225.2 683,230.2" fill="none" stroke="#000" stroke-width="2.8"/>
<path d="M626,229.2 L658,229.2 Q668,229.7 672,232.2" fill="none" stroke="#000" stroke-width="1.8"/>
<path d="M626,233.5 L662,233.5 Q676,234.5 683,239.5" fill="none" stroke="#000" stroke-width="2.8"/>
<path d="M626,238.5 L658,238.5 Q668,239 672,241.5" fill="none" stroke="#000" stroke-width="1.8"/>
<path d="M626,242.8 L662,242.8 Q676,243.8 683,248.8" fill="none" stroke="#000" stroke-width="2.8"/>
<path d="M626,247.8 L658,247.8 Q668,248.3 672,250.8" fill="none" stroke="#000" stroke-width="1.8"/>
<path d="M626,252.1 L662,252.1 Q676,253.1 683,258.1" fill="none" stroke="#000" stroke-width="2.8"/>
<path d="M626,257.1 L658,257.1 Q668,257.6 672,260.1" fill="none" stroke="#000" stroke-width="1.8"/>
<path d="M626,261.4 L662,261.4 Q676,262.4 683,267.4" fill="none" stroke="#000" stroke-width="2.8"/>
<path d="M626,266.4 L658,266.4 Q668,266.9 672,269.4" fill="none" stroke="#000" stroke-width="1.8"/>
<path d="M626,270.7 L662,270.7 Q676,271.7 683,276.7" fill="none" stroke="#000" stroke-width="2.8"/>
<path d="M626,275.7 L658,275.7 Q668,276.2 672,278.7" fill="none" stroke="#000" stroke-width="1.8"/>
<path d="M626,280 L662,280 Q676,281 683,286" fill="none" stroke="#000" stroke-width="2.8"/>
<path d="M626,285 L658,285 Q668,285.5 672,288" fill="none" stroke="#000" stroke-width="1.8"/>
<path d="M626,289.3 L662,289.3 Q676,290.3 683,295.3" fill="none" stroke="#000" stroke-width="2.8"/>
<path d="M626,294.3 L658,294.3 Q668,294.8 672,297.3" fill="none" stroke="#000" stroke-width="1.8"/>
<path d="M626,298.6 L662,298.6 Q676,299.6 683,304.6" fill="none" stroke="#000" stroke-width="2.8"/>
<path d="M626,303.6 L658,303.6 Q668,304.1 672,306.6" fill="none" stroke="#000" stroke-width="1.8"/>
<path d="M626,307.9 L662,307.9 Q676,308.9 683,313.9" fill="none" stroke="#000" stroke-width="2.8"/>
<path d="M626,312.9 L658,312.9 Q668,313.4 672,315.9" fill="none" stroke="#000" stroke-width="1.8"/>
<path d="M626,317.2 L662,317.2 Q676,318.2 683,323.2" fill="none" stroke="#000" stroke-width="2.8"/>
<path d="M626,322.2 L658,322.2 Q668,322.7 672,325.2" fill="none" stroke="#000" stroke-width="1.8"/>
<path d="M626,326.5 L662,326.5 Q676,327.5 683,332.5" fill="none" stroke="#000" stroke-width="2.8"/>
<path d="M626,331.5 L658,331.5 Q668,332 672,334.5" fill="none" stroke="#000" stroke-width="1.8"/>
<path d="M626,335.8 L662,335.8 Q676,336.8 683,341.8" fill="none" stroke="#000" stroke-width="2.8"/>
<path d="M626,340.8 L658,340.8 Q668,341.3 672,343.8" fill="none" stroke="#000" stroke-width="1.8"/>
<path d="M626,345.1 L662,345.1 Q676,346.1 683,351.1" fill="none" stroke="#000" stroke-width="2.8"/>
<path d="M626,350.1 L658,350.1 Q668,350.6 672,353.1" fill="none" stroke="#000" stroke-width="1.8"/>
<path d="M626,354.4 L662,354.4 Q676,355.4 683,360.4" fill="none" stroke="#000" stroke-width="2.8"/>
<path d="M626,359.4 L658,359.4 Q668,359.9 672,362.4" fill="none" stroke="#000" stroke-width="1.8"/>
<path d="M626,363.7 L662,363.7 Q676,364.7 683,369.7" fill="none" stroke="#000" stroke-width="2.8"/>
<path d="M626,368.7 L658,368.7 Q668,369.2 672,371.7" fill="none" stroke="#000" stroke-width="1.8"/>
<path d="M626,373 L662,373 Q676,374 683,379" fill="none" stroke="#000" stroke-width="2.8"/>
<path d="M626,378 L658,378 Q668,378.5 672,381" fill="none" stroke="#000" stroke-width="1.8"/>
<path d="M626,382.3 L662,382.3 Q676,383.3 683,388.3" fill="none" stroke="#000" stroke-width="2.8"/>
<path d="M626,387.3 L658,387.3 Q668,387.8 672,390.3" fill="none" stroke="#000" stroke-width="1.8"/>
<path d="M626,391.6 L662,391.6 Q676,392.6 683,397.6" fill="none" stroke="#000" stroke-width="2.8"/>
<path d="M626,396.6 L658,396.6 Q668,397.1 672,399.6" fill="none" stroke="#000" stroke-width="1.8"/>
<path d="M626,400.9 L662,400.9 Q676,401.9 683,406.9" fill="none" stroke="#000" stroke-width="2.8"/>
<path d="M626,405.9 L658,405.9 Q668,406.4 672,408.9" fill="none" stroke="#000" stroke-width="1.8"/>
<path d="M626,410.2 L662,410.2 Q676,411.2 683,416.2" fill="none" stroke="#000" stroke-width="2.8"/>
<path d="M626,415.2 L658,415.2 Q668,415.7 672,418.2" fill="none" stroke="#000" stroke-width="1.8"/>
<path d="M626,419.5 L662,419.5 Q676,420.5 683,425.5" fill="none" stroke="#000" stroke-width="2.8"/>
<path d="M626,424.5 L658,424.5 Q668,425 672,427.5" fill="none" stroke="#000" stroke-width="1.8"/>
<path d="M626,428.8 L662,428.8 Q676,429.8 683,434.8" fill="none" stroke="#000" stroke-width="2.8"/>
<path d="M626,433.8 L658,433.8 Q668,434.3 672,436.8" fill="none" stroke="#000" stroke-width="1.8"/>
<line x1="655" y1="185" x2="655" y2="432" stroke="#000" stroke-width="2"/>
<rect x="622" y="392" width="66" height="63" fill="#fff"/>
<line x1="620.5" y1="390" x2="620.5" y2="455" stroke="#000" stroke-width="2.5"/>
<line x1="622" y1="404.7" x2="688" y2="404.7" stroke="#000" stroke-width="1.3"/>
<line x1="622" y1="413.2" x2="688" y2="413.2" stroke="#000" stroke-width="1.3"/>
<line x1="622" y1="417.9" x2="688" y2="417.9" stroke="#000" stroke-width="1.3"/>
<line x1="622" y1="433.3" x2="688" y2="433.3" stroke="#000" stroke-width="1.3"/>
<rect x="624.7" y="431" width="29.3" height="21" fill="#fff" stroke="#000" stroke-width="2"/>
<line x1="624.7" y1="441.8" x2="654" y2="441.8" stroke="#000" stroke-width="2.5"/>
<line x1="654" y1="393" x2="654" y2="441" stroke="#000" stroke-width="2"/>
<path d="M654,394 Q667,396 667,418" fill="none" stroke="#000" stroke-width="2"/>
<path d="M654,407 Q664,409 666,418" fill="none" stroke="#000" stroke-width="3"/>
<path d="M624,452 L656.4,452 L685,419.4 L666.4,419.4" fill="none" stroke="#000" stroke-width="2"/>
<path d="M666.4,448 L690,448" fill="none" stroke="#000" stroke-width="1.5"/>
<path d="M666.4,448 L690,420" fill="none" stroke="#000" stroke-width="1.3"/>
<rect x="671.5" y="157.8" width="6.8" height="23" rx="3.4" fill="#fff" stroke="#000" stroke-width="1.6"/>
<rect x="668" y="176" width="14" height="6" fill="#fff" stroke="#000" stroke-width="1.5"/>
<rect x="692.5" y="216" width="77.5" height="54" fill="#fff" stroke="#000" stroke-width="2.2"/>
<line x1="692" y1="217.4" x2="770.5" y2="217.4" stroke="#000" stroke-width="4.5"/>
<line x1="695" y1="234" x2="768" y2="234" stroke="#000" stroke-width="1.5"/>
<rect x="704.7" y="234" width="52.3" height="26" rx="6" fill="none" stroke="#000" stroke-width="1.5"/>
<circle cx="718.2" cy="248.2" r="10.5" fill="#fff" stroke="#000" stroke-width="1.4"/>
<circle cx="718.2" cy="248.2" r="8.8" fill="#000"/>
<path d="M713.7,249 a4.5,4.5 0 0 1 9,0 z" fill="#bbb"/>
<circle cx="743.7" cy="248.2" r="10.5" fill="#fff" stroke="#000" stroke-width="1.4"/>
<circle cx="743.7" cy="248.2" r="8.8" fill="#000"/>
<path d="M739.2,249 a4.5,4.5 0 0 1 9,0 z" fill="#bbb"/>
<rect x="758.5" y="246" width="4.5" height="22" fill="#fff" stroke="#000" stroke-width="1.5"/>
<path d="M773,262 L776,246 Q778,238 786,238 L816,238 L816,262 Z" fill="#000"/>
<path d="M778,262 L780,250 Q782,244 790,244 L812,244 L812,262 Z" fill="#fff"/>
<line x1="783" y1="249" x2="812" y2="249" stroke="#000" stroke-width="1.2"/>
<rect x="693" y="270" width="124" height="77" fill="#000"/>
<line x1="697" y1="273" x2="813" y2="273" stroke="#2a2a2a" stroke-width="1"/>
<line x1="697" y1="277.2" x2="813" y2="277.2" stroke="#2a2a2a" stroke-width="1"/>
<line x1="697" y1="281.4" x2="813" y2="281.4" stroke="#2a2a2a" stroke-width="1"/>
<line x1="697" y1="285.6" x2="813" y2="285.6" stroke="#2a2a2a" stroke-width="1"/>
<line x1="697" y1="289.8" x2="813" y2="289.8" stroke="#2a2a2a" stroke-width="1"/>
<line x1="697" y1="294" x2="813" y2="294" stroke="#2a2a2a" stroke-width="1"/>
<line x1="697" y1="298.2" x2="813" y2="298.2" stroke="#2a2a2a" stroke-width="1"/>
<line x1="697" y1="302.4" x2="813" y2="302.4" stroke="#2a2a2a" stroke-width="1"/>
<line x1="697" y1="306.6" x2="813" y2="306.6" stroke="#2a2a2a" stroke-width="1"/>
<line x1="697" y1="310.8" x2="813" y2="310.8" stroke="#2a2a2a" stroke-width="1"/>
<line x1="697" y1="315" x2="813" y2="315" stroke="#2a2a2a" stroke-width="1"/>
<line x1="697" y1="319.2" x2="813" y2="319.2" stroke="#2a2a2a" stroke-width="1"/>
<line x1="697" y1="323.4" x2="813" y2="323.4" stroke="#2a2a2a" stroke-width="1"/>
<line x1="697" y1="327.6" x2="813" y2="327.6" stroke="#2a2a2a" stroke-width="1"/>
<line x1="697" y1="331.8" x2="813" y2="331.8" stroke="#2a2a2a" stroke-width="1"/>
<line x1="697" y1="336" x2="813" y2="336" stroke="#2a2a2a" stroke-width="1"/>
<line x1="697" y1="340.2" x2="813" y2="340.2" stroke="#2a2a2a" stroke-width="1"/>
<line x1="697" y1="344.4" x2="813" y2="344.4" stroke="#2a2a2a" stroke-width="1"/>
<line x1="700" y1="270" x2="700" y2="347" stroke="#444" stroke-width="1.2"/>
<line x1="810" y1="270" x2="810" y2="347" stroke="#444" stroke-width="1.2"/>
<rect x="702" y="271.5" width="19" height="11.5" fill="#fff"/><circle cx="711.5" cy="277.3" r="3" fill="none" stroke="#000" stroke-width="1.6"/>
<rect x="789.5" y="271.5" width="19" height="11.5" fill="#fff"/><circle cx="799" cy="277.3" r="3" fill="none" stroke="#000" stroke-width="1.6"/>
<rect x="702" y="337" width="19" height="11.5" fill="#fff"/><circle cx="711.5" cy="342.8" r="3" fill="none" stroke="#000" stroke-width="1.6"/>
<rect x="789.5" y="337" width="19" height="11.5" fill="#fff"/><circle cx="799" cy="342.8" r="3" fill="none" stroke="#000" stroke-width="1.6"/>
<circle cx="818" cy="309" r="3" fill="#000"/>
<rect x="693" y="347" width="124" height="20" fill="#fff"/>
<line x1="693" y1="347" x2="693" y2="367" stroke="#000" stroke-width="2"/>
<line x1="817" y1="347" x2="817" y2="367" stroke="#000" stroke-width="2"/>
<line x1="707" y1="351" x2="806" y2="351" stroke="#000" stroke-width="3.5"/>
<line x1="700" y1="356" x2="806" y2="356" stroke="#000" stroke-width="1.2"/>
<rect x="707" y="357" width="10" height="7" rx="2" fill="none" stroke="#000" stroke-width="2"/>
<rect x="794" y="357" width="10" height="7" rx="2" fill="none" stroke="#000" stroke-width="2"/>
<path d="M816.5,367 L816.5,234.5 L885.5,234.5 L911.5,253 L911.5,365 L885.5,383 L816.5,383" fill="#fff" stroke="#000" stroke-width="1.8"/>
<line x1="884.5" y1="234.5" x2="884.5" y2="383" stroke="#000" stroke-width="1.4"/>
<line x1="888.8" y1="237" x2="888.8" y2="381" stroke="#000" stroke-width="1.4"/>
<circle cx="816" cy="234" r="3" fill="#000"/>
<path d="M690,367 L830,367 L880.5,371 L880.5,444 L690,447.5 Z" fill="#fff" stroke="#000" stroke-width="1.8"/>
<line x1="625" y1="386.5" x2="856" y2="386.5" stroke="#000" stroke-width="1.3"/>
<line x1="625" y1="392.5" x2="856" y2="392.5" stroke="#000" stroke-width="1.3"/>
<line x1="625" y1="402" x2="856" y2="402" stroke="#000" stroke-width="1.3"/>
<line x1="625" y1="407" x2="856" y2="407" stroke="#000" stroke-width="1.3"/>
<line x1="625" y1="430" x2="880" y2="430" stroke="#000" stroke-width="1.3"/>
<line x1="625" y1="441" x2="690" y2="441" stroke="#000" stroke-width="1.3"/>
<line x1="689" y1="367" x2="689" y2="448" stroke="#000" stroke-width="1.3"/>
<line x1="695.5" y1="367" x2="695.5" y2="448" stroke="#000" stroke-width="1.3"/>
<line x1="700.5" y1="367" x2="700.5" y2="448" stroke="#000" stroke-width="1.3"/>
<line x1="709.5" y1="367" x2="709.5" y2="448" stroke="#000" stroke-width="1.3"/>
<rect x="856" y="389" width="24" height="25" fill="#fff" stroke="#000" stroke-width="2"/>
<line x1="856" y1="402" x2="880" y2="402" stroke="#000" stroke-width="1.3"/>
<rect x="856" y="371" width="20" height="8" fill="#fff" stroke="#000" stroke-width="1.6"/>
<path d="M850,444.5 L858,452 L900,452 L900,440 L880.5,440" fill="#fff" stroke="#000" stroke-width="1.8"/>
</g>
<rect x="227" y="140" width="546" height="330" fill="#fff" fill-opacity="0.2"/>
<g fill="#c6c6c6" style="mix-blend-mode:multiply">
<ellipse cx="722" cy="158.5" rx="42.2" ry="34.4" fill="none" stroke="#c6c6c6" stroke-width="4.4"/>
<path d="M703.5,137.5 h22 q17,0 17,11 q0,9 -12,11 l13,19.3 h-9 l-12,-18 h-11 v18 h-8 z M711.5,144 v12 h13 q9,0 9,-6 q0,-6 -9,-6 z" fill="#c6c6c6" fill-rule="evenodd"/>
<rect x="444" y="191" width="86" height="9.5"/>
<rect x="486.3" y="191" width="13.3" height="108"/>
<rect x="434.6" y="206.5" width="106" height="8.4"/>
<rect x="434.6" y="206.5" width="14.4" height="27"/>
<rect x="526" y="206.5" width="14.4" height="27"/>
<rect x="452.7" y="222" width="28.8" height="8.5"/>
<rect x="452.7" y="236.5" width="28.8" height="9.5"/>
<rect x="504.4" y="222" width="28.8" height="8.5"/>
<rect x="504.4" y="236.5" width="28.8" height="9.5"/>
<rect x="447.8" y="251" width="14" height="58"/>
<rect x="447.8" y="251" width="84" height="9.6"/>
<rect x="447.8" y="270" width="84" height="8.6"/>
<rect x="447.8" y="289.4" width="84" height="9.6"/>
<rect x="521" y="251" width="10.5" height="48"/>
<rect x="312" y="193" width="87" height="7.6"/>
<rect x="385" y="193" width="11.3" height="76"/>
<rect x="312" y="193" width="11" height="76"/>
<rect x="349" y="219" width="11.5" height="45"/>
<polygon points="379.6,272.8 387,266 411,291 403,299"/>
<polygon points="335,268 345,274 318,303 308,297"/>
<rect x="600" y="196" width="9" height="104"/>
<rect x="637" y="190" width="10" height="110"/>
<rect x="580" y="206" width="108" height="9"/>
<rect x="575" y="290" width="80" height="9"/>
<rect x="306" y="328" width="12" height="83"/>
<path d="M312,333 L328,333 Q341,333 341,349.5 Q341,366 328,366 L312,366 M312,366 L330,366 Q345,366 345,386 Q345,405.5 330,405.5 L312,405.5" fill="none" stroke="#c6c6c6" stroke-width="10"/>
<rect x="438.6" y="351.5" width="10.4" height="58.5"/><rect x="438.6" y="322" width="10.4" height="14.8"/>
<rect x="495.3" y="325" width="10.5" height="85"/>
<path d="M369.5,366 Q371,356 383,356 Q397.5,356 397.5,371 L397.5,410.2" fill="none" stroke="#c6c6c6" stroke-width="9.5"/>
<path d="M397.5,382 L381,382 Q369,382 369,395 Q369,405.5 381,405.5 Q392,405.5 397.5,398" fill="none" stroke="#c6c6c6" stroke-width="9.5"/>
<path d="M548,382 L590,382 Q590,356 569,356 Q548,356 548,381 Q548,406 569,406 Q581,406 590,399" fill="none" stroke="#c6c6c6" stroke-width="10"/>
<path d="M600,351 L632,425 M670,351 L630,440 Q626,449 616,449" fill="none" stroke="#c6c6c6" stroke-width="10.5"/>
</g>
<line x1="87" y1="104.5" x2="87" y2="300" stroke="#000" stroke-width="2"/>
<line x1="378" y1="104.5" x2="378" y2="300" stroke="#000" stroke-width="2"/>
<line x1="87" y1="116" x2="378" y2="116" stroke="#000" stroke-width="1.8"/>
<polygon points="87,116 101,113.4 101,118.6" fill="#000"/>
<polygon points="378,116 364,118.6 364,113.4" fill="#000"/>
<text x="217.95" y="111.2" font-size="21.55" textLength="28.59" lengthAdjust="spacingAndGlyphs" fill="#000">610</text>
<line x1="27" y1="158.7" x2="227" y2="158.7" stroke="#000" stroke-width="1.8"/>
<line x1="27" y1="453" x2="131" y2="453" stroke="#000" stroke-width="1.8"/>
<line x1="38.3" y1="158.7" x2="38.3" y2="453" stroke="#000" stroke-width="1.8"/>
<polygon points="38.3,158.7 40.9,172.7 35.7,172.7" fill="#000"/>
<polygon points="38.3,453 35.7,439 40.9,439" fill="#000"/>
<text transform="translate(33,318) rotate(-90)" x="-0.65" y="0" font-size="21.55" textLength="27.6" lengthAdjust="spacingAndGlyphs" fill="#000">618</text>
<line x1="27" y1="467.2" x2="187" y2="467.2" stroke="#000" stroke-width="1.8"/>
<line x1="38.3" y1="467.2" x2="38.3" y2="522" stroke="#000" stroke-width="1.8"/>
<polygon points="38.3,467.2 40.9,481.2 35.7,481.2" fill="#000"/>
<text transform="translate(33.6,518) rotate(-90)" x="-0.65" y="0" font-size="21.55" textLength="19.61" lengthAdjust="spacingAndGlyphs" fill="#000">29</text>
<line x1="133.3" y1="453" x2="133.3" y2="514.7" stroke="#000" stroke-width="1.8"/>
<line x1="330.4" y1="455" x2="330.4" y2="514.7" stroke="#000" stroke-width="1.8"/>
<line x1="133.3" y1="504.4" x2="330.4" y2="504.4" stroke="#000" stroke-width="1.8"/>
<polygon points="133.3,504.4 147.3,501.8 147.3,507" fill="#000"/>
<polygon points="330.4,504.4 316.4,507 316.4,501.8" fill="#000"/>
<text x="217.65" y="499.4" font-size="21.74" textLength="29" lengthAdjust="spacingAndGlyphs" fill="#000">414</text>
<g stroke="#000" stroke-width="1.4">
<line x1="64" y1="310" x2="400" y2="310" stroke-dasharray="18,3,3,3"/>
<line x1="232.3" y1="142.7" x2="232.3" y2="452" stroke-dasharray="30,3,3,3"/>
<line x1="232.3" y1="454.7" x2="232.3" y2="457.4"/><line x1="232.3" y1="460" x2="232.3" y2="478"/>
</g>
<ellipse cx="50" cy="395.5" rx="4.6" ry="5" fill="none" stroke="#000" stroke-width="1.5"/><line x1="47.5" y1="402.5" x2="52.9" y2="388.1" stroke="#000" stroke-width="1.5"/>
<text x="58.26" y="402.5" font-size="21.3" textLength="30.27" lengthAdjust="spacingAndGlyphs" fill="#000">490</text>
<polyline points="45.1,407 91.9,407 328.2,243.4" fill="none" stroke="#000" stroke-width="1.5"/>
<ellipse cx="370.7" cy="396.9" rx="4.4" ry="4.6" fill="none" stroke="#000" stroke-width="1.5"/><line x1="368.4" y1="403.6" x2="373.5" y2="389.9" stroke="#000" stroke-width="1.5"/>
<text x="377.38" y="403.4" font-size="20.58" textLength="17.06" lengthAdjust="spacingAndGlyphs" fill="#000">12</text>
<polyline points="394.6,408.4 361.4,408.4 340,381" fill="none" stroke="#000" stroke-width="1.6"/>
<line x1="524.6" y1="32.6" x2="524.6" y2="101" stroke="#000" stroke-width="2"/>
<line x1="524.6" y1="118.7" x2="524.6" y2="550" stroke="#000" stroke-width="2"/>
<line x1="912" y1="32.6" x2="912" y2="253" stroke="#000" stroke-width="2"/>
<line x1="524.6" y1="44" x2="912" y2="44" stroke="#000" stroke-width="1.8"/>
<polygon points="524.6,44 538.6,41.4 538.6,46.6" fill="#000"/>
<polygon points="912,44 898,46.6 898,41.4" fill="#000"/>
<text x="696.16" y="39.6" font-size="21.3" textLength="42.48" lengthAdjust="spacingAndGlyphs" fill="#000">812.3</text>
<line x1="684.6" y1="118.7" x2="684.6" y2="181" stroke="#000" stroke-width="1.8"/>
<line x1="524.6" y1="130" x2="684.6" y2="130" stroke="#000" stroke-width="1.8"/>
<polygon points="524.6,130 538.6,127.4 538.6,132.6" fill="#000"/>
<polygon points="684.6,130 670.6,132.6 670.6,127.4" fill="#000"/>
<text x="588.82" y="124.25" font-size="22.64" textLength="29.63" lengthAdjust="spacingAndGlyphs" fill="#000">336</text>
<line x1="744" y1="118.7" x2="744" y2="248" stroke="#000" stroke-width="1.8"/>
<line x1="744" y1="130" x2="912" y2="130" stroke="#000" stroke-width="1.8"/>
<polygon points="744,130 758,127.4 758,132.6" fill="#000"/>
<polygon points="912,130 898,132.6 898,127.4" fill="#000"/>
<text x="813.57" y="124.25" font-size="22.64" textLength="28.94" lengthAdjust="spacingAndGlyphs" fill="#000">291</text>
<line x1="718.4" y1="157.8" x2="718.4" y2="248" stroke="#000" stroke-width="1.8"/>
<line x1="688.7" y1="169.5" x2="718.4" y2="169.5" stroke="#000" stroke-width="1.8"/>
<polygon points="718.4,169.5 704.4,172.1 704.4,166.9" fill="#000"/>
<line x1="744" y1="169.5" x2="800" y2="169.5" stroke="#000" stroke-width="1.8"/>
<polygon points="744,169.5 758,166.9 758,172.1" fill="#000"/>
<text x="775.03" y="165" font-size="22.42" textLength="21.35" lengthAdjust="spacingAndGlyphs" fill="#000">54</text>
<line x1="770" y1="215.3" x2="977" y2="215.3" stroke="#000" stroke-width="1.8"/>
<line x1="965.6" y1="215.3" x2="965.6" y2="452" stroke="#000" stroke-width="1.8"/>
<polygon points="965.6,215.3 968.2,229.3 963,229.3" fill="#000"/>
<polygon points="965.6,309.3 963,295.3 968.2,295.3" fill="#000"/>
<polygon points="965.6,309.3 968.2,323.3 963,323.3" fill="#000"/>
<polygon points="965.6,452 963,438 968.2,438" fill="#000"/>
<text transform="translate(960.7,275.6) rotate(-90)" x="-0.65" y="0" font-size="21.55" textLength="26.89" lengthAdjust="spacingAndGlyphs" fill="#000">197</text>
<text transform="translate(960.7,395.6) rotate(-90)" x="-0.65" y="0" font-size="21.55" textLength="30.29" lengthAdjust="spacingAndGlyphs" fill="#000">300</text>
<line x1="901.6" y1="440" x2="984.5" y2="440" stroke="#000" stroke-width="1.8"/>
<line x1="858" y1="452" x2="984.5" y2="452" stroke="#000" stroke-width="1.8"/>
<line x1="973.2" y1="410.7" x2="973.2" y2="440" stroke="#000" stroke-width="1.8"/>
<polygon points="973.2,440 970.6,426 975.8,426" fill="#000"/>
<line x1="973.2" y1="452" x2="973.2" y2="522.2" stroke="#000" stroke-width="1.8"/>
<polygon points="973.2,452 975.8,466 970.6,466" fill="#000"/>
<text transform="translate(968.8,518.7) rotate(-90)" x="-0.68" y="0" font-size="22.64" textLength="35.43" lengthAdjust="spacingAndGlyphs" fill="#000">25.6</text>
<line x1="487.7" y1="309.6" x2="977" y2="309.6" stroke="#000" stroke-width="1.4" stroke-dasharray="15.3,2,4,2"/>
<line x1="880.1" y1="445" x2="880.1" y2="516.2" stroke="#000" stroke-width="1.8"/>
<line x1="899.6" y1="453" x2="899.6" y2="548.6" stroke="#000" stroke-width="1.8"/>
<line x1="524.6" y1="505" x2="880.1" y2="505" stroke="#000" stroke-width="1.8"/>
<polygon points="524.6,505 538.6,502.4 538.6,507.6" fill="#000"/>
<polygon points="880.1,505 866.1,507.6 866.1,502.4" fill="#000"/>
<text x="685.56" y="500.8" font-size="21.46" textLength="31.94" lengthAdjust="spacingAndGlyphs" fill="#000">746</text>
<line x1="524.6" y1="538" x2="899.6" y2="538" stroke="#000" stroke-width="1.8"/>
<polygon points="524.6,538 538.6,535.4 538.6,540.6" fill="#000"/>
<polygon points="899.6,538 885.6,540.6 885.6,535.4" fill="#000"/>
<text x="696.86" y="533" font-size="21.46" textLength="30.73" lengthAdjust="spacingAndGlyphs" fill="#000">787</text>
<text x="448.53" y="387.1" font-size="15.67" textLength="56.8" lengthAdjust="spacingAndGlyphs" fill="#333">M40X1.5</text>
<polyline points="449.6,390.6 509.6,390.6 540.2,369.9 704.1,264.7" fill="none" stroke="#333" stroke-width="1.4"/>
<line x1="540.2" y1="369.9" x2="735.1" y2="255.5" stroke="#333" stroke-width="1.3"/>
</svg></body></html>
